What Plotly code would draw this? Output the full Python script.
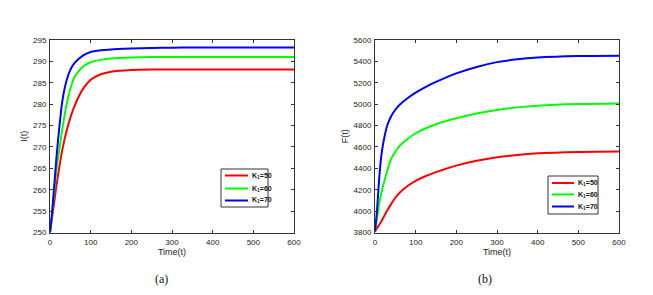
import plotly.graph_objects as go

# time samples
T = [0, 5, 10, 15, 20, 30, 40, 50, 60, 80, 100, 125, 150, 200, 250, 300, 350, 400, 500, 600]

# panel (a): I(t)
I_K50 = [250, 253.5, 256.8, 260.5, 263.5, 269.2, 273.5, 276.8, 279.5, 283.4, 285.7, 287.0, 287.6, 288.0, 288.1, 288.1, 288.1, 288.1, 288.1, 288.1]
I_K60 = [250, 254.4, 259.5, 264, 267.5, 274, 279.5, 283.6, 286.3, 288.7, 289.8, 290.35, 290.65, 290.9, 291.0, 291.0, 291.0, 291.0, 291.0, 291.0]
I_K70 = [250, 254.4, 260.5, 266.5, 271.8, 280.5, 285.3, 288.0, 289.6, 291.3, 292.2, 292.6, 292.8, 293.0, 293.15, 293.2, 293.25, 293.25, 293.25, 293.25]

# panel (b): F(t)
F_K50 = [3810, 3840, 3870, 3900, 3935, 4005, 4068, 4125, 4170, 4235, 4283, 4328, 4365, 4425, 4470, 4503, 4525, 4540, 4553, 4557]
F_K60 = [3810, 3928, 4060, 4160, 4236, 4375, 4490, 4555, 4608, 4675, 4728, 4775, 4812, 4868, 4913, 4946, 4970, 4986, 5001, 5006]
F_K70 = [3810, 4010, 4290, 4500, 4630, 4800, 4890, 4948, 4992, 5055, 5107, 5162, 5208, 5288, 5348, 5393, 5420, 5436, 5450, 5453]

names = ["K<sub>1</sub>=50", "K<sub>1</sub>=60", "K<sub>1</sub>=70"]
colors = ["#ff0000", "#00ff00", "#0000ff"]

x_ticks = [0, 100, 200, 300, 400, 500, 600]
I_ticks = [250, 255, 260, 265, 270, 275, 280, 285, 290, 295]
F_ticks = [3800, 4000, 4200, 4400, 4600, 4800, 5000, 5200, 5400, 5600]

# the page body has an 8px margin, so the figure starts at (8, 8)
OFF = 8
W, H = 653 - OFF, 295 - OFF


def px(x):
    return (x - OFF) / W


def py(y):
    return (H - (y - OFF)) / H


fig = go.Figure()
for ys, nm, c in zip([I_K50, I_K60, I_K70], names, colors):
    fig.add_trace(go.Scatter(x=T, y=ys, mode="lines", name=nm, showlegend=False,
                             line=dict(color=c, width=2, shape="spline", smoothing=0.6),
                             xaxis="x", yaxis="y"))
for ys, nm, c in zip([F_K50, F_K60, F_K70], names, colors):
    fig.add_trace(go.Scatter(x=T, y=ys, mode="lines", name=nm, showlegend=False,
                             line=dict(color=c, width=2, shape="spline", smoothing=0.6),
                             xaxis="x2", yaxis="y2"))

font = dict(family="Liberation Sans, Arial", size=8, color="#222")
tfont = dict(family="Liberation Sans, Arial", size=9, color="#222")
ax = dict(showline=True, linecolor="#333", linewidth=1, mirror="ticks", ticks="inside", ticklen=3,
          tickcolor="#333", showgrid=False, zeroline=False, tickfont=font, automargin=False)

# custom legends (box, sample lines, labels)
shapes = []
annotations = []
legends = [
    dict(box=(221, 169, 268, 207), line_x=(225, 248), ys=(175.5, 188.5, 200.5), text_x=250),
    dict(box=(548, 176, 598, 214), line_x=(552, 574), ys=(183, 194.5, 206.5), text_x=576),
]
for lg in legends:
    x0, y0, x1, y1 = lg["box"]
    shapes.append(dict(type="rect", xref="paper", yref="paper", x0=px(x0), x1=px(x1), y0=py(y1), y1=py(y0),
                       line=dict(color="#333", width=1), fillcolor="white", layer="above"))
    for yy, nm, c in zip(lg["ys"], names, colors):
        shapes.append(dict(type="line", xref="paper", yref="paper", x0=px(lg["line_x"][0]), x1=px(lg["line_x"][1]),
                           y0=py(yy), y1=py(yy), line=dict(color=c, width=2), layer="above"))
        annotations.append(dict(text="<b>" + nm + "</b>", x=px(lg["text_x"]), y=py(yy), xref="paper", yref="paper",
                                xanchor="left", yanchor="middle", showarrow=False,
                                font=dict(family="Liberation Sans, Arial", size=7, color="#111")))

annotations += [
    dict(text="(a)", x=px(161), y=py(279), xref="paper", yref="paper", showarrow=False,
         xanchor="center", yanchor="middle",
         font=dict(family="Liberation Serif, Times New Roman", size=12, color="#111")),
    dict(text="(b)", x=px(485), y=py(279), xref="paper", yref="paper", showarrow=False,
         xanchor="center", yanchor="middle",
         font=dict(family="Liberation Serif, Times New Roman", size=12, color="#111")),
]

yd = [py(232.5), py(40)]
fig.update_layout(
    width=W, height=H, margin=dict(l=0, r=0, t=0, b=0),
    paper_bgcolor="white", plot_bgcolor="white", showlegend=False,
    xaxis=dict(ax, domain=[px(50), px(294)], range=[0, 600], tickvals=x_ticks, ticklabelstandoff=2,
               title=dict(text="Time(t)", font=tfont, standoff=2), anchor="y"),
    yaxis=dict(ax, domain=yd, range=[250, 295], tickvals=I_ticks, ticklabelstandoff=1,
               title=dict(text="I(t)", font=tfont, standoff=3), anchor="x"),
    xaxis2=dict(ax, domain=[px(375), px(619)], range=[0, 600], tickvals=x_ticks, ticklabelstandoff=2,
                title=dict(text="Time(t)", font=tfont, standoff=2), anchor="y2"),
    yaxis2=dict(ax, domain=yd, range=[3800, 5600], tickvals=F_ticks, ticklabelstandoff=1,
                title=dict(text="F(t)", font=tfont, standoff=3), anchor="x2"),
    shapes=shapes,
    annotations=annotations,
)

fig.write_html("out.html")
